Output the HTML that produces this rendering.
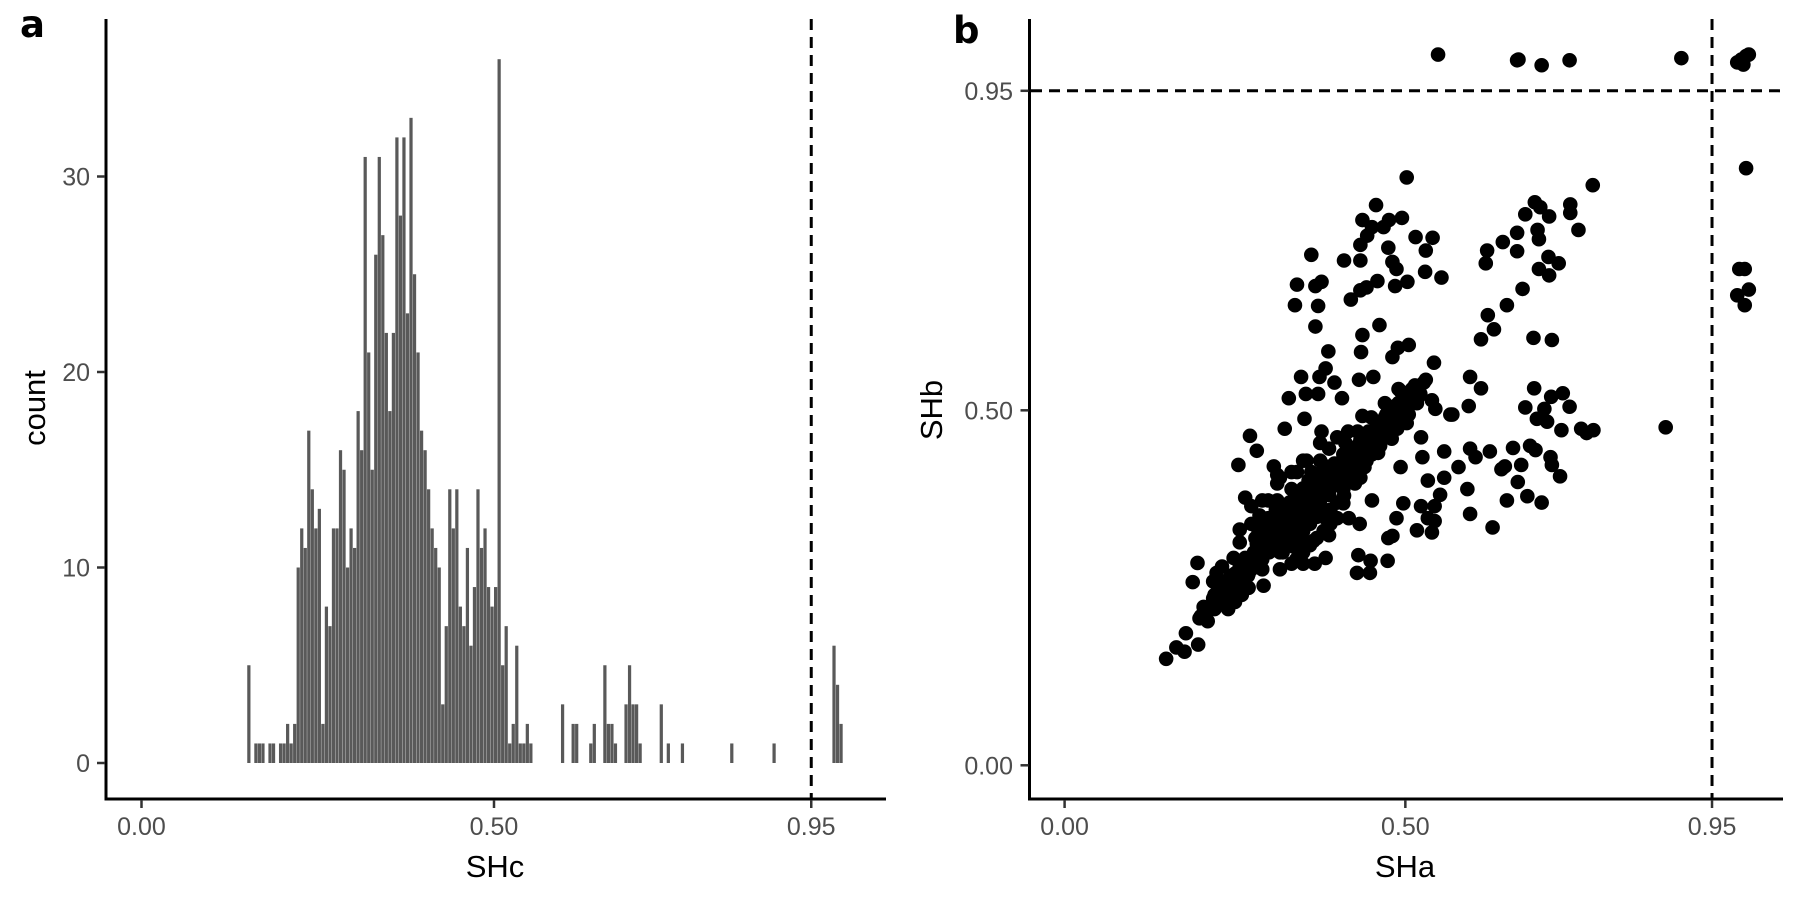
<!DOCTYPE html>
<html><head><meta charset="utf-8"><style>
html,body{margin:0;padding:0;background:#fff;}
svg{display:block;font-family:"Liberation Sans",sans-serif;}
</style></head><body>
<svg id="fig" width="1800" height="900" viewBox="0 0 1800 900" xmlns="http://www.w3.org/2000/svg">
<g id="pa"></g>
<g id="pb"></g>
</svg>
<script>
// ---------- Panel A data ----------
const histStart = 0.15;
const binWidth = 0.005;
const histCounts = [5,0,1,1,1,0,1,1,0,1,1,2,1,2,
10,12,11,17,14,12,13,2,8,7,12,12,16,15,10,12,11,18,16,31,21,15,26,31,27,22,18,22,32,28,
32,23,33,25,21,17,16,14,12,11,10,3,7,14,12,14,8,7,11,6,9,14,11,12,9,8,9,36,5,7,1,2,6,1,1,2,1];
const sparseBins = [89,92,93,97,98,101,102,103,104,107,108,109,110,111,117,119,123,137,149,166,167,168];
const sparseCounts = [3,2,2,1,2,5,2,2,1,3,5,3,3,1,3,1,1,1,1,6,4,2];
const aXTicks = [0, 0.5, 0.95];
const aXTickLabels = ["0.00","0.50","0.95"];
const aYTicks = [0,10,20,30];
const aYTickLabels = ["0","10","20","30"];
const aCutoff = 0.95;

// ---------- Panel B data ----------
const shA1 = [0.548,0.664,0.666,0.700,0.741,0.905,0.987,0.993,1.000,1.004,0.996,1.000,0.990,0.998,0.987,1.004,0.998,0.882,
0.502,0.775,0.457,0.437,0.495,0.476,0.451,0.468,0.444,0.515,0.540,0.434,0.475,0.530,0.362,0.410,0.434,0.481,0.487,0.529,0.553,0.341,0.377,0.368,0.459,0.485,0.503,0.443,0.434,0.420,0.338,0.372,0.368,0.462,0.437,0.435,0.387,0.481,0.489,0.505,0.542,0.383,0.374,0.347,0.396,0.407,0.432,0.453,0.329,0.354,0.372,0.352,0.323,0.437,0.377,0.416,0.272,0.282,0.255,0.355,0.312,
0.690,0.698,0.742,0.742,0.676,0.711,0.754,0.664,0.694,0.643,0.696,0.620,0.664,0.710,0.725,0.618,0.696,0.711,0.672,0.649,0.621,0.630,0.611,0.688,0.715,
0.595,0.611,0.593,0.569,0.689,0.714,0.731,0.676,0.704,0.741,0.693,0.708,0.729,0.758,0.776,0.766,0.595,0.603,0.624,0.658,0.683,0.691,0.713,0.715,0.727,0.670,0.646,0.641,0.665,0.679,0.700,0.649,0.578,0.557,0.591,0.595,0.628,0.557,0.533,0.551,0.543,0.523,0.533,0.543,0.539,0.517,0.497,0.487,0.481,0.475,0.474,0.449,0.431,0.429,0.448,0.451,0.433,0.493,0.525,0.523,0.544,0.566];
const shB1 = [1.001,0.993,0.994,0.986,0.993,0.996,0.990,0.994,0.999,1.001,0.987,0.841,0.699,0.699,0.662,0.670,0.648,0.476,
0.828,0.817,0.789,0.768,0.771,0.768,0.758,0.758,0.746,0.744,0.743,0.733,0.729,0.725,0.719,0.711,0.711,0.709,0.699,0.695,0.687,0.677,0.681,0.675,0.682,0.675,0.681,0.673,0.669,0.656,0.648,0.647,0.618,0.620,0.606,0.582,0.583,0.575,0.588,0.592,0.567,0.559,0.547,0.547,0.539,0.517,0.543,0.547,0.517,0.523,0.523,0.488,0.474,0.492,0.470,0.470,0.464,0.443,0.423,0.429,0.409,
0.793,0.786,0.790,0.778,0.776,0.773,0.754,0.750,0.754,0.737,0.741,0.725,0.724,0.716,0.707,0.707,0.699,0.690,0.671,0.648,0.634,0.614,0.600,0.602,0.599,
0.547,0.531,0.506,0.494,0.531,0.519,0.524,0.504,0.502,0.505,0.488,0.484,0.472,0.474,0.472,0.468,0.446,0.434,0.442,0.447,0.450,0.444,0.434,0.423,0.407,0.423,0.421,0.417,0.399,0.379,0.370,0.373,0.420,0.442,0.389,0.354,0.335,0.405,0.401,0.381,0.365,0.365,0.348,0.344,0.328,0.331,0.369,0.348,0.323,0.320,0.288,0.288,0.296,0.271,0.271,0.373,0.340,0.420,0.434,0.462,0.502,0.494];
// main diagonal band
const shA2 = [0.149,0.164,0.176,0.178,0.196,0.198,0.210,0.188,0.195,0.204,0.218,0.227,0.223,0.236,0.244,0.257,0.257,0.269,0.292,0.265,0.278,0.282,0.265,0.286,0.299,0.312,0.299,0.312,0.333,0.341,0.358,0.350,0.328,0.350,0.383,0.365,0.388,0.400,0.363,0.367,0.388,0.409,0.396,0.383,0.409,0.421,0.430,0.443,0.454,0.443,0.468,0.481,0.493,0.502,0.514,0.527,0.505,0.485,0.472,0.459,0.446,0.434,0.421,0.409,0.396,0.375,0.362,0.354,0.341,0.324,0.316,0.307,0.299,0.287,0.274,0.261,0.248,0.236,0.336,0.350,0.362,0.375,0.333,0.367,0.316,0.290,0.409,0.426,0.451,0.463,0.476,0.488,0.502,0.517,0.522,0.530,0.539,0.509,0.493,0.400,0.388,0.375,0.412,0.350,0.333,0.316,0.312,0.290,0.274,0.299,0.274,0.257,0.341,0.307,0.400,0.434,0.417,0.383,0.350,0.316,0.282,0.218,0.231,0.248];
const shB2 = [0.150,0.166,0.160,0.186,0.170,0.207,0.203,0.258,0.285,0.223,0.235,0.243,0.271,0.259,0.267,0.280,0.314,0.267,0.253,0.292,0.300,0.336,0.377,0.352,0.324,0.348,0.373,0.397,0.389,0.413,0.401,0.373,0.332,0.284,0.292,0.316,0.324,0.348,0.357,0.381,0.381,0.369,0.397,0.421,0.429,0.413,0.438,0.454,0.462,0.429,0.474,0.486,0.502,0.519,0.535,0.539,0.494,0.506,0.494,0.482,0.470,0.458,0.446,0.438,0.425,0.429,0.413,0.389,0.365,0.348,0.332,0.308,0.300,0.288,0.276,0.259,0.247,0.235,0.308,0.332,0.348,0.373,0.284,0.284,0.276,0.276,0.389,0.397,0.438,0.450,0.462,0.474,0.482,0.510,0.523,0.543,0.514,0.519,0.527,0.462,0.446,0.454,0.454,0.429,0.413,0.405,0.373,0.373,0.365,0.348,0.340,0.332,0.385,0.421,0.413,0.405,0.348,0.348,0.316,0.300,0.312,0.259,0.280,0.292];
// dense core of the band
const shA3 = [0.20,0.21,0.22,0.22,0.23,0.23,0.24,0.24,0.25,0.25,0.26,0.26,0.27,0.27,0.28,0.28,0.29,0.29,0.30,0.30,0.31,0.31,0.32,0.32,0.33,0.33,0.34,0.34,0.35,0.35,0.36,0.36,0.37,0.37,0.38,0.38,0.39,0.39,0.40,0.40,0.41,0.41,0.42,0.42,0.43,0.43,0.44,0.44,0.45,0.45,0.46,0.46,0.47,0.47,0.48,0.48,0.49,0.49,0.50,0.50,0.51,0.51,0.52,
0.32,0.33,0.34,0.35,0.36,0.37,0.38,0.34,0.35,0.36,0.37,0.33,0.32,0.36,0.38,0.39,0.40,0.41,0.30,0.31,0.29,0.28,0.27,0.26,0.25,0.24,0.34,0.35,0.37,0.39,0.42,0.44,0.46,0.48,0.43,0.45,0.47,0.49];
const shB3 = [0.21,0.22,0.22,0.24,0.23,0.25,0.24,0.26,0.25,0.27,0.26,0.28,0.27,0.29,0.28,0.30,0.29,0.31,0.30,0.32,0.31,0.33,0.32,0.34,0.33,0.35,0.34,0.36,0.35,0.37,0.36,0.38,0.37,0.39,0.38,0.40,0.39,0.41,0.40,0.42,0.41,0.43,0.42,0.44,0.43,0.45,0.44,0.46,0.45,0.47,0.46,0.48,0.47,0.49,0.48,0.50,0.49,0.51,0.50,0.52,0.51,0.53,0.52,
0.30,0.31,0.32,0.33,0.34,0.35,0.36,0.38,0.39,0.40,0.41,0.37,0.36,0.31,0.33,0.36,0.37,0.38,0.34,0.36,0.33,0.32,0.25,0.24,0.23,0.22,0.29,0.30,0.32,0.34,0.40,0.42,0.44,0.46,0.47,0.49,0.51,0.53];
const bTicks = [0, 0.5, 0.95];
const bTickLabels = ["0.00","0.50","0.95"];
const bCutoff = 0.95;

const NS = "http://www.w3.org/2000/svg";
function mk(parent, tag, attrs, text){
  const e = document.createElementNS(NS, tag);
  for (const k in attrs) e.setAttribute(k, attrs[k]);
  if (text !== undefined) e.textContent = text;
  parent.appendChild(e);
  return e;
}
const TICKFS = 25, TITLEFS = 31;

// ---------- Panel A ----------
const pa = document.getElementById('pa');
const ax = v => 141.5 + v * 705;
const ay = c => 763 - c * 19.55;
const barsG = mk(pa, 'g', {});


function drawBar(left, c){
  if (c <= 0) return;
  const x0 = ax(left), x1 = ax(left + binWidth);
  const r = mk(barsG, 'rect', {x: x0, y: ay(c), width: Math.max(0.5, x1 - x0 - 0.3), height: ay(0) - ay(c), fill: '#595959'});
  
  
}
histCounts.forEach((c, i) => drawBar(histStart + i * binWidth, c));
sparseBins.forEach((b, i) => drawBar(histStart + b * binWidth, sparseCounts[i]));

const aCut = mk(pa, 'line', {x1: ax(aCutoff), x2: ax(aCutoff), y1: 19, y2: 798, stroke: '#000', 'stroke-width': 3, 'stroke-dasharray': '11 7'});



const aYAxis = mk(pa, 'line', {x1: 106, x2: 106, y1: 19, y2: 800.5, stroke: '#000', 'stroke-width': 3});


const aXAxis = mk(pa, 'line', {x1: 104.5, x2: 886, y1: 799, y2: 799, stroke: '#000', 'stroke-width': 3});



aXTicks.forEach((v, i) => {
  const t = mk(pa, 'line', {x1: ax(v), x2: ax(v), y1: 800, y2: 808, stroke: '#333', 'stroke-width': 2.5});
  
  
  const l = mk(pa, 'text', {x: ax(v), y: 835, 'text-anchor': 'middle', 'font-size': TICKFS, fill: '#4d4d4d'}, aXTickLabels[i]);
  
  
});
aYTicks.forEach((v, i) => {
  const t = mk(pa, 'line', {x1: 97, x2: 105, y1: ay(v), y2: ay(v), stroke: '#333', 'stroke-width': 2.5});
  
  
  const l = mk(pa, 'text', {x: 90, y: ay(v) + 9, 'text-anchor': 'end', 'font-size': TICKFS, fill: '#4d4d4d'}, aYTickLabels[i]);
  
  
});
const aXT = mk(pa, 'text', {x: 495, y: 877, 'text-anchor': 'middle', 'font-size': TITLEFS, fill: '#000'}, 'SHc');


const aYT = mk(pa, 'text', {x: 0, y: 0, 'text-anchor': 'middle', 'font-size': TITLEFS, fill: '#000', transform: 'translate(45,408) rotate(-90)'}, 'count');


const aLab = mk(pa, 'text', {x: 20, y: 37, 'font-size': 37, 'font-weight': 'bold', fill: '#000', 'font-family': 'DejaVu Sans, sans-serif'}, 'a');



// ---------- Panel B ----------
const pb = document.getElementById('pb');
const bx = v => 1064.6 + v * 681.5;
const by = v => 765.3 - v * 710;

const bv = mk(pb, 'line', {x1: bx(bCutoff), x2: bx(bCutoff), y1: 19, y2: 798, stroke: '#000', 'stroke-width': 3, 'stroke-dasharray': '11 7'});


const bh = mk(pb, 'line', {x1: 1031, x2: 1783, y1: by(bCutoff), y2: by(bCutoff), stroke: '#000', 'stroke-width': 3, 'stroke-dasharray': '11 7'});



const ptsG = mk(pb, 'g', {});


const shA = shA1.concat(shA2, shA3);
const shB = shB1.concat(shB2, shB3);
shA.forEach((a, i) => {
  const c = mk(ptsG, 'circle', {cx: bx(a), cy: by(shB[i]), r: 7.3, fill: '#000'});
  
  
});

const bYAxis = mk(pb, 'line', {x1: 1029.5, x2: 1029.5, y1: 19, y2: 800.5, stroke: '#000', 'stroke-width': 3});


const bXAxis = mk(pb, 'line', {x1: 1028, x2: 1783, y1: 799, y2: 799, stroke: '#000', 'stroke-width': 3});



bTicks.forEach((v, i) => {
  const t = mk(pb, 'line', {x1: bx(v), x2: bx(v), y1: 800, y2: 808, stroke: '#333', 'stroke-width': 2.5});
  
  
  const l = mk(pb, 'text', {x: bx(v), y: 835, 'text-anchor': 'middle', 'font-size': TICKFS, fill: '#4d4d4d'}, bTickLabels[i]);
  
  
  const t2 = mk(pb, 'line', {x1: 1020.5, x2: 1028.5, y1: by(v), y2: by(v), stroke: '#333', 'stroke-width': 2.5});
  
  
  const l2 = mk(pb, 'text', {x: 1013, y: by(v) + 9, 'text-anchor': 'end', 'font-size': TICKFS, fill: '#4d4d4d'}, bTickLabels[i]);
  
  
});
const bXT = mk(pb, 'text', {x: 1405, y: 877, 'text-anchor': 'middle', 'font-size': TITLEFS, fill: '#000'}, 'SHa');


const bYT = mk(pb, 'text', {x: 0, y: 0, 'text-anchor': 'middle', 'font-size': TITLEFS, fill: '#000', transform: 'translate(942,410) rotate(-90)'}, 'SHb');


const bLab = mk(pb, 'text', {x: 953, y: 43, 'font-size': 37, 'font-weight': 'bold', fill: '#000', 'font-family': 'DejaVu Sans, sans-serif'}, 'b');


</script>
</body></html>
